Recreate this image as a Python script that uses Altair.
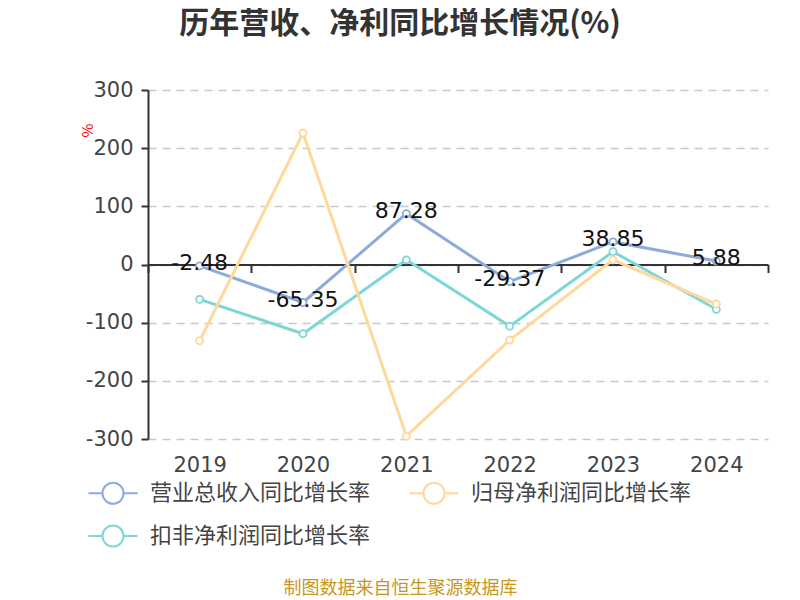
import altair as alt
import pandas as pd

years = ["2019", "2020", "2021", "2022", "2023", "2024"]
series_names = ["营业总收入同比增长率", "扣非净利润同比增长率", "归母净利润同比增长率"]
revenue = [-2.48, -65.35, 87.28, -29.37, 38.85, 5.88]
net_profit = [-131, 226, -295, -130, 8, -68]
deducted_profit = [-60, -119, 8, -106, 22, -77]
colors = ["#8eaadb", "#7fd6d6", "#ffd89a"]

rows = []
for s, vals in zip(series_names, [revenue, deducted_profit, net_profit]):
    for y, v in zip(years, vals):
        rows.append({"year": y, "series": s, "value": v})
df = pd.DataFrame(rows)
rev_df = pd.DataFrame({"year": years, "value": revenue,
                       "label": [f"{v:.2f}" for v in revenue]})

FONT = "Noto Sans CJK SC"
NUM = "DejaVu Sans"
W, H = 620, 349

x = alt.X("year:N", sort=years,
          scale=alt.Scale(paddingInner=0, paddingOuter=0),
          axis=alt.Axis(title="制图数据来自恒生聚源数据库", titleColor="#c8961e",
                        titleFontSize=18, titleFont=FONT, titleFontWeight="normal",
                        titleX=252, titleY=324, titleAlign="center", titleBaseline="middle",
                        offset=-174.5, domainColor="#333", domainWidth=2,
                        tickColor="#333", tickWidth=2, tickSize=8, tickBand="extent",
                        labelFontSize=21, labelColor="#444", labelFont=NUM,
                        labelPadding=182, labelAngle=0, grid=False))
y = alt.Y("value:Q", scale=alt.Scale(domain=[-300, 300], nice=False),
          axis=alt.Axis(values=[-300, -200, -100, 0, 100, 200, 300],
                        labelExpr="'' + datum.value",
                        title="%", titleColor="red", titleFontSize=15, titleFont=FONT,
                        titleFontWeight="normal", titleX=-61, titleY=40, titleAngle=270,
                        titleAlign="center", titleBaseline="middle",
                        domainColor="#333", domainWidth=2, tickColor="#333", tickWidth=2,
                        tickSize=7, labelFontSize=21, labelColor="#444", labelFont=NUM,
                        labelPadding=8, gridColor="#c8c8c8", gridDash=[8, 6], gridWidth=1.5))

stroke = alt.Stroke("series:N", scale=alt.Scale(domain=series_names, range=colors),
                    legend=alt.Legend(title=None, orient="none", legendX=-48, legendY=390,
                                      columns=2, columnPadding=34, rowPadding=13,
                                      symbolType="M-2.05,0L-0.875,0M0.875,0L2.05,0M-0.875,0A0.875,0.875 0 1,1 0.875,0A0.875,0.875 0 1,1 -0.875,0Z",
                                      symbolSize=576, symbolFillColor="white",
                                      symbolStrokeWidth=2, labelOffset=24,
                                      labelFontSize=22, labelFont=FONT, labelColor="#444",
                                      labelLimit=400))

lines = alt.Chart(df).mark_line(strokeWidth=3).encode(x=x, y=y, stroke=stroke)
points = alt.Chart(df).mark_point(filled=True, fill="white", size=50, strokeWidth=1.8,
                                  opacity=1).encode(x=x, y=y, stroke=stroke)
labels = alt.Chart(rev_df).mark_text(fontSize=22, font=NUM, color="#111",
                                     baseline="middle", dy=-3).encode(
    x=alt.X("year:N", sort=years), y=alt.Y("value:Q"), text="label:N")

chart = alt.layer(lines, points, labels).properties(
    width=W, height=H,
    padding={"left": 140, "top": 82, "right": 24, "bottom": 161},
    autosize=alt.AutoSizeParams(type="none"),
    title=alt.TitleParams("历年营收、净利同比增长情况(%)", fontSize=30, font=FONT,
                          fontWeight="bold", color="#333", anchor="middle", dx=-58,
                          frame="group", offset=10, baseline="bottom"),
).configure_view(stroke=None)

chart.save("out.html", embed_options={"renderer": "svg", "actions": False})
